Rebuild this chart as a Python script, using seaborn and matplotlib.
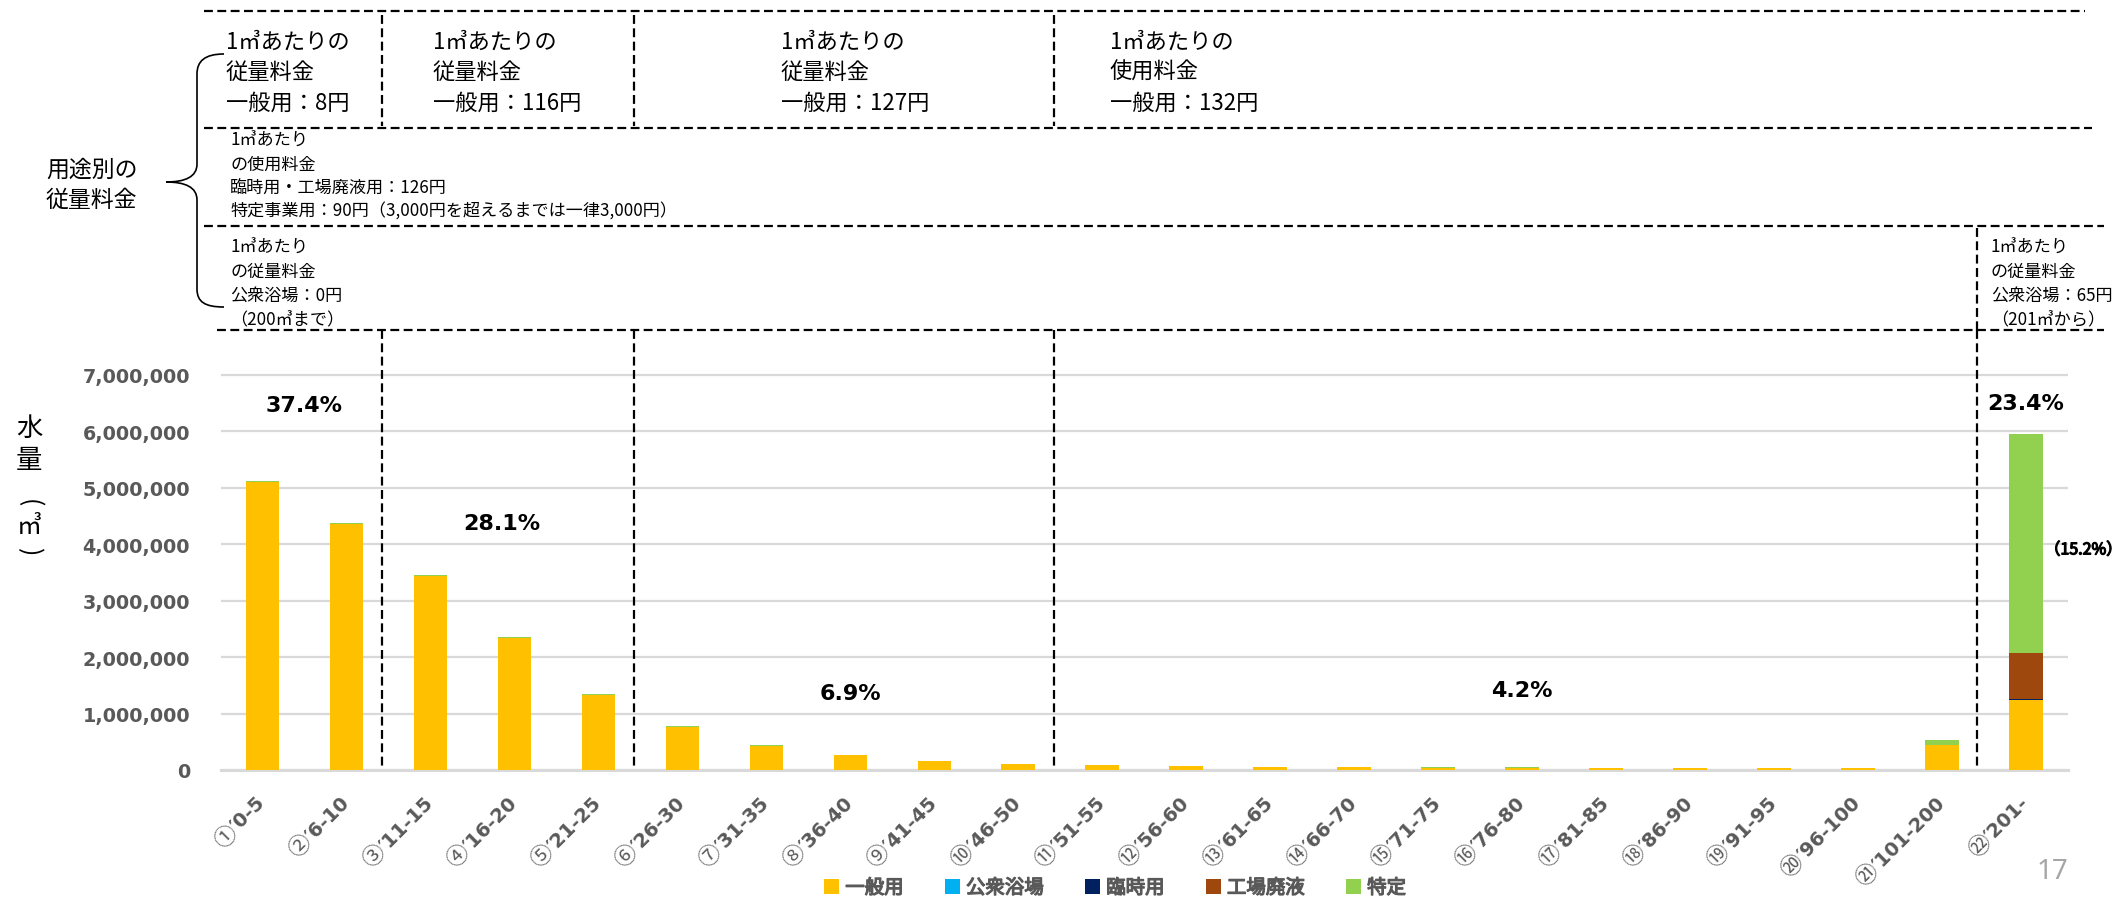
import numpy as np
import pandas as pd
import matplotlib
matplotlib.use("Agg")
import matplotlib.pyplot as plt
import matplotlib.transforms as mtrans
import matplotlib.patheffects as pe
from matplotlib.lines import Line2D
from matplotlib.patches import Patch, PathPatch
from matplotlib.path import Path
from matplotlib.font_manager import FontProperties
from matplotlib.textpath import TextToPath
import seaborn as sns

# ---------------- data ----------------
categories = ["①′0-5", "②′6-10", "③′11-15", "④′16-20", "⑤′21-25", "⑥′26-30",
              "⑦′31-35", "⑧′36-40", "⑨′41-45", "⑩′46-50", "⑪′51-55", "⑫′56-60",
              "⑬′61-65", "⑭′66-70", "⑮′71-75", "⑯′76-80", "⑰′81-85", "⑱′86-90",
              "⑲′91-95", "⑳′96-100", "㉑′101-200", "㉒′201-"]
general = [5100000, 4350000, 3440000, 2340000, 1335000, 765000, 430000, 258000,
           158000, 102000, 85000, 68000, 56000, 54000, 42000, 40000, 38000, 36000,
           34000, 33000, 445000, 1240000]
bath = [0] * 20 + [2000, 5000]
temporary = [0] * 20 + [4000, 6000]
factory = [0] * 21 + [815000]
specific = [25000, 20000, 18000, 15000, 12000, 12000, 8000, 7000, 6000, 6000,
            6000, 7000, 5000, 6000, 5000, 5000, 5000, 4000, 4000, 4000, 85000, 3890000]
series_names = ["一般用", "公衆浴場", "臨時用", "工場廃液", "特定"]
series_colors = ["#FFC000", "#00B0F0", "#002060", "#9E480E", "#92D050"]
group_last = [1, 4, 9, 20]                       # last bar index of each rate band
group_shares = ["37.4%", "28.1%", "6.9%", "4.2%", "23.4%"]
share_x = [0.5, 2.85, 7.0, 15.0, 21.0]
share_y = [6.46e6, 4.38e6, 1.37e6, 1.42e6, 6.5e6]
sub_share = "（15.2%）"
yticks = [0, 1000000, 2000000, 3000000, 4000000, 5000000, 6000000, 7000000]

# ---------------- style ----------------
sns.set_style("white")
CJK = ["Noto Sans CJK JP", "DejaVu Sans"]
LAT = ["DejaVu Sans", "Noto Sans CJK JP"]
plt.rcParams["font.family"] = LAT
GRAY = "#595959"

W, H = 2128, 904
fig = plt.figure(figsize=(W / 100, H / 100), dpi=100)
ax_left, ax_right, ax_bottom, ax_top = 220.5, 2068, 771, 373
ax = fig.add_axes([ax_left / W, 1 - ax_bottom / H, (ax_right - ax_left) / W,
                   (ax_bottom - ax_top) / H])

df = pd.DataFrame({"cat": categories, "一般用": general, "公衆浴場": bath,
                   "臨時用": temporary, "工場廃液": factory, "特定": specific})
cum = df[series_names].cumsum(axis=1)
for name, color in reversed(list(zip(series_names, series_colors))):
    sns.barplot(x=df["cat"], y=cum[name], color=color, saturation=1, width=0.4,
                errorbar=None, ax=ax, order=categories, linewidth=0, zorder=3)

ax.set_xlim(-0.5, len(categories) - 0.5)
ax.set_ylim(0, 7.05e6)
ax.set_yticks(yticks)
ax.set_yticklabels([f"{v:,}" for v in yticks])
ax.set_xlabel("")
ax.set_ylabel("")
ax.yaxis.grid(True, color="#D9D9D9", lw=1.6)
ax.set_axisbelow(True)
for s in ["top", "right", "left"]:
    ax.spines[s].set_visible(False)
ax.spines["bottom"].set_color("#D9D9D9")
ax.spines["bottom"].set_linewidth(2.2)
ax.tick_params(axis="y", length=0, pad=22, labelsize=13.8, labelcolor=GRAY)
for lab in ax.get_yticklabels():
    lab.set_fontweight("bold")
ax.set_xticks(range(len(categories)))
ax.set_xticklabels([""] * len(categories))
ax.tick_params(axis="x", length=0)

# x tick labels: circled number (thin CJK) + range (bold), rotated 45°
rest_prop = FontProperties(family="DejaVu Sans", weight="bold", size=14)
ttp = TextToPath()
base = ax.get_xaxis_transform()
c45 = np.cos(np.radians(45))
PAD = 21
for i, cat in enumerate(categories):
    circ, rest = cat[0], cat[1:]
    w, _, _ = ttp.get_text_width_height_descent(rest, rest_prop, ismath=False)
    tr1 = mtrans.offset_copy(base, fig=fig, x=0, y=-PAD, units="points")
    ax.text(i, 0, rest, transform=tr1, rotation=45, rotation_mode="anchor",
            ha="right", va="center", fontproperties=rest_prop, color=GRAY)
    off = w + 0.5
    tr2 = mtrans.offset_copy(base, fig=fig, x=-off * c45, y=-PAD - off * c45, units="points")
    ax.text(i, 0, circ, transform=tr2, rotation=45, rotation_mode="anchor",
            ha="right", va="center", fontsize=16, family=CJK, color=GRAY)

# group share labels
for t, x, y in zip(group_shares, share_x, share_y):
    ax.text(x, y, t, ha="center", va="center", fontsize=16, fontweight="bold",
            family="DejaVu Sans", color="black")
ax.text(21.22, 3.9e6, sub_share, ha="left", va="center", fontsize=11.5,
        family=CJK, color="black", clip_on=False,
        path_effects=[pe.withStroke(linewidth=0.9, foreground="black")])

# ---------------- dashed separators ----------------
def fy(y):
    return 1 - y / H

def fx(x):
    return x / W

DASH = (0, (4, 2))
blend = mtrans.blended_transform_factory(ax.transData, fig.transFigure)
sep_x = [g + 0.42 for g in group_last]
for i, sx in enumerate(sep_x):
    fig.add_artist(Line2D([sx, sx], [fy(331), fy(768)], transform=blend,
                          color="black", lw=1.6, ls=DASH))
    if i < 3:
        fig.add_artist(Line2D([sx, sx], [fy(16), fy(127)], transform=blend,
                              color="black", lw=1.6, ls=DASH))
    else:
        fig.add_artist(Line2D([sx, sx], [fy(229), fy(331)], transform=blend,
                              color="black", lw=1.6, ls=DASH))
for y, x0, x1 in [(12, 204, 2085), (129, 204, 2092), (227, 204, 2104), (331, 217, 2104)]:
    fig.add_artist(Line2D([fx(x0), fx(x1)], [fy(y), fy(y)], transform=fig.transFigure,
                          color="black", lw=1.6, ls=DASH))

# ---------------- header texts ----------------
def put_lines(lines, x, y0, step, size, **kw):
    for k, line in enumerate(lines):
        fig.text(fx(x), fy(y0 + k * step), line, ha="left", va="center",
                 fontsize=size, family=CJK, color="black", **kw)

put_lines(["1㎥あたりの", "従量料金", "一般用：8円"], 226, 42, 30.5, 16)
put_lines(["1㎥あたりの", "従量料金", "一般用：116円"], 433, 42, 30.5, 16)
put_lines(["1㎥あたりの", "従量料金", "一般用：127円"], 781, 42, 30.5, 16)
put_lines(["1㎥あたりの", "使用料金", "一般用：132円"], 1110, 42, 30.5, 16)
put_lines(["1㎥あたり", "の使用料金", "臨時用・工場廃液用：126円",
           "特定事業用：90円（3,000円を超えるまでは一律3,000円）"], 230, 141, 23.5, 12.3)
put_lines(["1㎥あたり", "の従量料金", "公衆浴場：0円", "（200㎥まで）"], 230, 248, 24, 12.3)
put_lines(["1㎥あたり", "の従量料金", "公衆浴場：65円", "（201㎥から）"], 1991, 248, 24, 12.3)
put_lines(["用途別の", "従量料金"], 46, 170, 30, 16.5)

# brace
pts = [(224, 55), (205, 55), (197, 62), (197, 75), (197, 165),
       (197, 178), (185, 183), (166, 183), (185, 183), (197, 188), (197, 201),
       (197, 290), (197, 303), (205, 308), (224, 308)]
codes = [Path.MOVETO, Path.CURVE4, Path.CURVE4, Path.CURVE4, Path.LINETO,
         Path.CURVE4, Path.CURVE4, Path.CURVE4, Path.CURVE4, Path.CURVE4, Path.CURVE4,
         Path.LINETO, Path.CURVE4, Path.CURVE4, Path.CURVE4]
brace = Path([(fx(px), fy(py)) for px, py in pts], codes)
fig.add_artist(PathPatch(brace, transform=fig.transFigure, fill=False,
                         edgecolor="black", lw=1.2))

# y-axis label (vertical writing: upright characters, rotated brackets)
for ch, y, s, rot in [("水", 428, 19, 0), ("量", 461, 19, 0), ("(", 503, 18, -90),
                      ("㎥", 527, 18, 0), (")", 552, 18, -90)]:
    fig.text(fx(29), fy(y), ch, ha="center", va="center", fontsize=s, rotation=rot,
             family=["Noto Sans CJK JP", "DejaVu Sans"], color="black")

# legend
handles = [Patch(facecolor=c, edgecolor="none") for c in series_colors]
leg = fig.legend(handles, series_names, loc="center", bbox_to_anchor=(fx(1115), fy(889)),
                 ncol=5, frameon=False, handlelength=0.8, handleheight=0.8,
                 handletextpad=0.3, columnspacing=2.1, labelcolor=GRAY,
                 prop=FontProperties(family=CJK, size=14))
for t in leg.get_texts():
    t.set_path_effects([pe.withStroke(linewidth=0.9, foreground=GRAY)])

# page number
fig.text(fx(2052), fy(872), "17", ha="center", va="center", fontsize=20,
         family=["Noto Sans", "DejaVu Sans"], color="#A6A6A6")

fig.savefig("out.png", dpi=100)
